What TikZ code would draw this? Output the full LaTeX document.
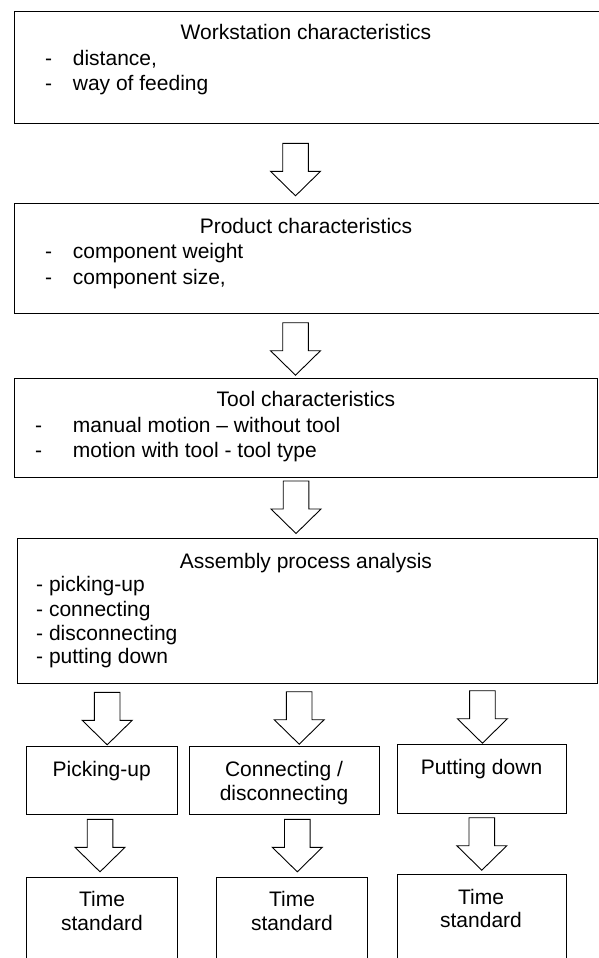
\documentclass[tikz,border=0pt]{standalone}
\usepackage{fontspec}
\setmainfont{Liberation Sans}

\tikzset{
  frame/.style={draw=black, line width=0.9pt, inner sep=0pt, anchor=north west},
  txt/.style={inner sep=0pt, font=\fontsize{21}{24}\selectfont, text=black},
  title/.style={txt, anchor=base},
  item/.style={txt, anchor=base west},
  barrow/.style={draw=black, line width=0.9pt, fill=white, line join=miter},
}

% hollow block arrow pointing down, #1 = top centre of its stem
\newcommand\blockarrow[1]{%
  \draw[barrow] (#1) ++(-12.8,0) -- ++(25.6,0) -- ++(0,28) -- ++(12.2,0)
    -- ++(-25,24.5) -- ++(-25,-24.5) -- ++(12.2,0) -- cycle;}

\begin{document}
\begin{tikzpicture}[x=1pt, y=-1pt]
  \useasboundingbox (0,0) rectangle (598,958);
  \fill[white] (0,0) rectangle (598,958);

  % main stages
  \node[frame, minimum width=586pt, minimum height=112pt] (ws) at (14,10.7) {};
  \node[title] (wsT) at (306,39.5) {Workstation characteristics};
  \node[item] (ws1) at (45,66) {\makebox[27.7pt][l]{-}distance,};
  \node[item] (ws2) at (45,90) {\makebox[27.7pt][l]{-}way of feeding};

  \node[frame, minimum width=586pt, minimum height=110.6pt] (pc) at (14,202.7) {};
  \node[title] (pcT) at (306,233) {Product characteristics};
  \node[item] (pc1) at (45,258) {\makebox[27.7pt][l]{-}component weight};
  \node[item] (pc2) at (45,284) {\makebox[27.7pt][l]{-}component size,};

  \node[frame, minimum width=583pt, minimum height=98.7pt] (tc) at (14,378) {};
  \node[title] (tcT) at (306,406.7) {Tool characteristics};
  \node[item] (tc1) at (35,432) {\makebox[37.7pt][l]{-}manual motion -- without tool};
  \node[item] (tc2) at (35,457) {\makebox[37.7pt][l]{-}motion with tool - tool type};

  \node[frame, minimum width=580.3pt, minimum height=145.3pt] (ap) at (16.7,538) {};
  \node[title] (apT) at (306,568) {Assembly process analysis};
  \node[item] (ap1) at (36,591.7) {- picking-up};
  \node[item] (ap2) at (36,616) {- connecting};
  \node[item] (ap3) at (36,640) {- disconnecting};
  \node[item] (ap4) at (36,663.5) {- putting down};

  % operation boxes
  \node[frame, minimum width=151.3pt, minimum height=68.6pt] (pu) at (26,745.7) {};
  \node[title] (puT) at (101.7,776) {Picking-up};
  \node[frame, minimum width=189.7pt, minimum height=68.6pt] (cd) at (189.3,745.7) {};
  \node[title] (cdT1) at (284,776) {Connecting /};
  \node[title] (cdT2) at (284,800) {disconnecting};
  \node[frame, minimum width=169.3pt, minimum height=69pt] (pd) at (396.7,743.7) {};
  \node[title] (pdT) at (481.5,774) {Putting down};

  % time standard boxes (run past the lower edge)
  \node[frame, minimum width=151.3pt, minimum height=95pt] (tA) at (26,876.7) {};
  \node[title] (tA1) at (102,906.7) {Time};
  \node[title] (tA2) at (102,930) {standard};
  \node[frame, minimum width=151pt, minimum height=95pt] (tB) at (215.7,876.7) {};
  \node[title] (tB1) at (292,906.7) {Time};
  \node[title] (tB2) at (292,930) {standard};
  \node[frame, minimum width=169.3pt, minimum height=95pt] (tC) at (396.7,874) {};
  \node[title] (tC1) at (481,904) {Time};
  \node[title] (tC2) at (481,927.3) {standard};

  % block arrows between the stages
  \coordinate (a1) at (295.5,143.3);
  \coordinate (a2) at (295.5,322.7);
  \coordinate (a3) at (296,481);
  \coordinate (b1) at (107.2,692.3);
  \coordinate (b2) at (299.2,691.7);
  \coordinate (b3) at (482.4,690.7);
  \coordinate (c1) at (100,819.3);
  \coordinate (c2) at (297.3,819.3);
  \coordinate (c3) at (481.8,817.7);
  \foreach \p in {a1,a2,a3,b1,b2,b3,c1,c2,c3} {\blockarrow{\p}}
\end{tikzpicture}
\end{document}
